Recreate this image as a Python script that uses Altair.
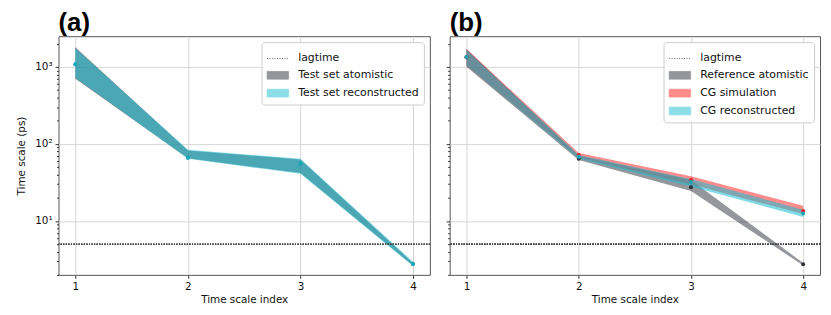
import altair as alt
import pandas as pd

# ---------------- data ----------------
idx = [1, 2, 3, 4]

# panel (a)
a_series = ["Test set atomistic", "Test set reconstructed"]
a_atom_lo = [700, 65, 42, 2.65]
a_atom_hi = [1800, 82, 63, 2.85]
a_atom_mid = [1080, 66, 55, 2.75]
a_rec_lo = [720, 64, 41, 2.6]
a_rec_hi = [1750, 84, 64, 2.95]
a_rec_mid = [1080, 66, 56, 2.78]

# panel (b)
b_series = ["Reference atomistic", "CG simulation", "CG reconstructed"]
b_ref_lo = [1000, 62, 24.5, 2.65]
b_ref_hi = [1700, 70, 34, 2.85]
b_ref_mid = [1330, 64, 27.5, 2.75]
b_sim_lo = [1050, 66, 30, 12.3]
b_sim_hi = [1700, 76, 38, 15.8]
b_sim_mid = [1340, 72, 34, 13.5]
b_rec_lo = [1050, 64, 28, 11.3]
b_rec_hi = [1650, 72, 35, 14.0]
b_rec_mid = [1340, 68, 32, 12.5]

lagtime = 5

y_ticks = [2, 3, 4, 5, 6, 7, 8, 9, 10, 20, 30, 40, 50, 60, 70, 80, 90,
           100, 200, 300, 400, 500, 600, 700, 800, 900, 1000, 2000]
x_ticks = [1, 2, 3, 4]

# ---------------- styling ----------------
GRAY = "#2b303a"
RED = "#ff1a1a"
CYAN = "#17becf"
LAG = "#444444"
FONT = "DejaVu Sans"

major = "datum.value == 10 || datum.value == 100 || datum.value == 1000"


def frame(series, los, his, mids):
    rows = []
    for s, lo, hi, mid in zip(series, los, his, mids):
        for i, l, h, m in zip(idx, lo, hi, mid):
            rows.append({"series": s, "idx": i, "lo": l, "hi": h, "mid": m})
    return pd.DataFrame(rows)


def panel(df, series, colors, point_colors, opacities, label, show_y, width):
    domain = ["lagtime"] + series
    color_scale = alt.Scale(domain=domain, range=[LAG] + colors)
    xenc = alt.X("idx:Q", scale=alt.Scale(domain=[0.85, 4.15], nice=False, zero=False),
                 axis=alt.Axis(values=x_ticks, format="d", title="Time scale index",
                               grid=True, gridColor="#d4d4d4", domain=False,
                               tickSize=3.5, tickColor="#333", labelFontSize=10.5,
                               labelColor="#111", titleFontSize=10.5, titleFontWeight="normal",
                               titleColor="#111", labelPadding=3, titlePadding=3,
                               labelFont=FONT, titleFont=FONT))
    yscale = alt.Scale(type="log", domain=[2.0, 2500], nice=False, clamp=True)
    yaxis = alt.Axis(values=y_ticks,
                     labelExpr="datum.value == 10 ? '10¹' : datum.value == 100 ? '10²' : datum.value == 1000 ? '10³' : ''",
                     labels=show_y,
                     title="Time scale (ps)" if show_y else None,
                     grid=True, gridColor="#d4d4d4",
                     gridOpacity={"condition": {"test": major, "value": 1}, "value": 0},
                     tickSize={"condition": {"test": major, "value": 3.5}, "value": 2},
                     tickColor="#333", domain=False, labelFontSize=10.5, labelColor="#111",
                     titleFontSize=10.5, titleFontWeight="normal", titleColor="#111",
                     labelPadding=3, titlePadding=8, labelFont=FONT, titleFont=FONT)
    legend = alt.Legend(
        title=None, orient="top-right", offset=6, fillColor="white", strokeColor="#cccccc",
        cornerRadius=3, padding=5, labelFontSize=11, labelFont=FONT, labelColor="#111",
        labelLimit=300, rowPadding=0, labelOffset=9,
        symbolType={"expr": "datum.value == 'lagtime' ? 'stroke' : 'M-1,-0.36H1V0.36H-1Z'"},
        symbolSize=470,
        symbolOpacity={"expr": "datum.value == 'lagtime' ? 1 : 0.5"},
        symbolStrokeColor={"expr": "datum.value == 'lagtime' ? '#777' : 'transparent'"},
        symbolStrokeWidth=0.8,
        symbolDash={"expr": "datum.value == 'lagtime' ? [1, 1.5] : [1, 0]"},
    )
    layers = []
    for s, op in zip(series, opacities):
        layers.append(
            alt.Chart(df).transform_filter(alt.datum.series == s).mark_area(
                fillOpacity=op, strokeWidth=0
            ).encode(
                x=xenc,
                y=alt.Y("lo:Q", scale=yscale, axis=yaxis),
                y2="hi:Q",
                color=alt.Color("series:N", scale=color_scale, legend=legend),
            )
        )
    layers.append(
        alt.Chart(df).mark_rule(strokeDash=[1, 1.6], strokeWidth=0.8).encode(
            y=alt.datum(lagtime),
            color=alt.datum("lagtime"),
        )
    )
    for s, pc in zip(series, point_colors):
        layers.append(
            alt.Chart(df).transform_filter(alt.datum.series == s).mark_circle(
                size=16, opacity=1, color=pc
            ).encode(x="idx:Q", y="mid:Q")
        )
    return alt.layer(*layers).properties(
        width=width, height=241,
        title=alt.TitleParams(label, anchor="start", frame="group", fontSize=26,
                              font="Liberation Sans", fontWeight="bold", offset=0,
                              color="#000"),
    )


df_a = frame(a_series, [a_atom_lo, a_rec_lo], [a_atom_hi, a_rec_hi], [a_atom_mid, a_rec_mid])
df_b = frame(b_series, [b_ref_lo, b_sim_lo, b_rec_lo], [b_ref_hi, b_sim_hi, b_rec_hi],
             [b_ref_mid, b_sim_mid, b_rec_mid])

pa = panel(df_a, a_series, [GRAY, CYAN], ["#1f9fb0", "#17a9b8"], [0.55, 0.55], "(a)", True, 375)
pb = panel(df_b, b_series, [GRAY, RED, CYAN], ["#2b303a", "#e3202a", "#17a9b8"],
           [0.5, 0.5, 0.55], "(b)", False, 374)

chart = alt.hconcat(pa, pb, spacing=14).resolve_scale(color="independent").properties(
    padding={"left": 8, "top": 0, "right": 2, "bottom": 2}
).configure_view(stroke="#555555", strokeWidth=1)

chart.save("out.html", embed_options={"renderer": "svg", "actions": False})
